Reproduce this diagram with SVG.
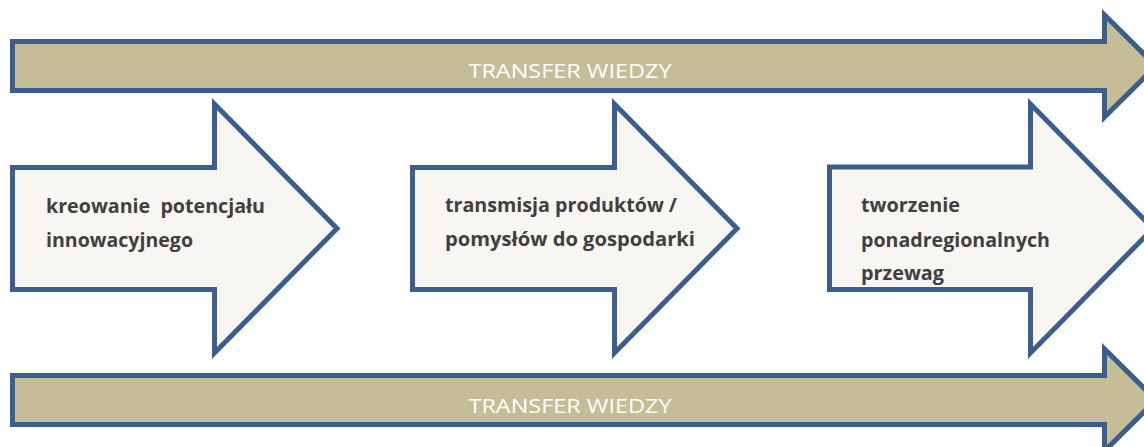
<svg xmlns="http://www.w3.org/2000/svg" width="1144" height="447" viewBox="0 0 1144 447">
<style>
.band{fill:#C4BD97;stroke:#3B5E8C;stroke-width:5;stroke-linejoin:miter}
.big{fill:#F7F6F2;stroke:#3B5E8C;stroke-width:5;stroke-linejoin:miter}
.bt{font-family:"Open Sans",sans-serif;font-size:20.5px;fill:#FFFFFF;text-anchor:middle}
.nt{font-family:"Open Sans",sans-serif;font-weight:bold;font-size:20px;fill:#404040}
</style>
<rect width="1144" height="447" fill="#FFFFFF"/>
<g id="band-top">
<polygon class="band" points="12.5,41.5 1104.5,41.5 1104.5,15 1156,66 1104.5,117 1104.5,90.5 12.5,90.5"/>
<text class="bt" x="570" y="78" textLength="203" lengthAdjust="spacingAndGlyphs">TRANSFER WIEDZY</text>
</g>
<g id="band-bottom">
<polygon class="band" points="12.5,375.5 1104.5,375.5 1104.5,349 1156,400 1104.5,451 1104.5,424.5 12.5,424.5"/>
<text class="bt" x="570" y="413" textLength="203" lengthAdjust="spacingAndGlyphs">TRANSFER WIEDZY</text>
</g>
<g id="step1">
<polygon class="big" points="12.5,167.5 214.5,167.5 214.5,104 337,228.5 214.5,353 214.5,289.5 12.5,289.5"/>
<text class="nt" x="46" y="213" textLength="219" lengthAdjust="spacingAndGlyphs">kreowanie&#160; potencjału</text>
<text class="nt" x="46" y="247" textLength="147" lengthAdjust="spacingAndGlyphs">innowacyjnego</text>
</g>
<g id="step2">
<polygon class="big" points="412.5,167.5 614.5,167.5 614.5,104 737,228.5 614.5,353 614.5,289.5 412.5,289.5"/>
<text class="nt" x="445" y="212" textLength="232" lengthAdjust="spacingAndGlyphs">transmisja produktów /</text>
<text class="nt" x="445" y="246" textLength="250" lengthAdjust="spacingAndGlyphs">pomysłów do gospodarki</text>
</g>
<g id="step3">
<polygon class="big" points="829.5,167 1030.5,167 1030.5,104 1153,228.5 1030.5,353 1030.5,289.5 829.5,289.5"/>
<text class="nt" x="861" y="212" textLength="99" lengthAdjust="spacingAndGlyphs">tworzenie</text>
<text class="nt" x="861" y="247" textLength="189" lengthAdjust="spacingAndGlyphs">ponadregionalnych</text>
<text class="nt" x="861" y="280" textLength="83" lengthAdjust="spacingAndGlyphs">przewag</text>
</g>
<g id="connectors"></g>
</svg>
